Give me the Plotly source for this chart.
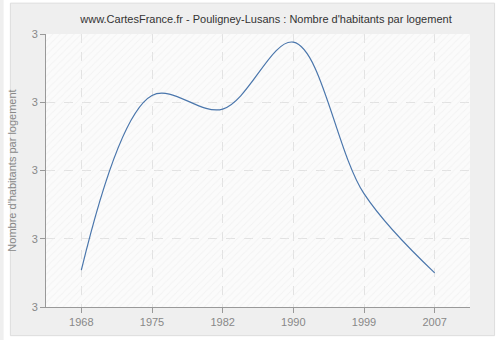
import plotly.graph_objects as go

years = ["1968", "1975", "1982", "1990", "1999", "2007"]
values = [2.927, 3.055, 3.045, 3.094, 2.983, 2.925]
y_tickvals = [2.9, 2.95, 3.0, 3.05, 3.1]
y_ticktext = ["3", "3", "3", "3", "3"]

title = "www.CartesFrance.fr - Pouligney-Lusans : Nombre d'habitants par logement"
ytitle = "Nombre d'habitants par logement"

FONT = "Liberation Sans, Arial, sans-serif"

fig = go.Figure()

# hatched background on the hidden base axes
fig.add_trace(go.Scatter(
    x=[0, 1, 1, 0, 0], y=[0, 0, 1, 1, 0], xaxis="x", yaxis="y",
    mode="lines", line=dict(width=0), fill="toself", fillcolor="rgba(0,0,0,0)",
    fillpattern=dict(shape="/", fgcolor="#ebebeb", bgcolor="rgba(0,0,0,0)", size=5, solidity=0.2),
    hoverinfo="skip", showlegend=False,
))

fig.add_trace(go.Scatter(
    x=years, y=values, mode="lines", xaxis="x2", yaxis="y2",
    line=dict(color="#4a76ac", width=1.2, shape="spline", smoothing=1),
    showlegend=False,
))

axis_common = dict(
    showline=True, linecolor="#999999", linewidth=1,
    ticks="outside", ticklen=5, tickcolor="#999999",
    showgrid=True, gridcolor="#e2e2e2", griddash="dash", gridwidth=1,
    zeroline=False, tickfont=dict(family=FONT, size=11, color="#888888"),
)

fig.update_layout(
    width=500, height=340,
    margin=dict(l=41, r=30, t=34, b=31),
    paper_bgcolor="#efefef",
    plot_bgcolor="#fbfbfb",
    font=dict(family=FONT, size=11, color="#888888"),
    title=dict(text=title, x=0.532, xanchor="center", y=0.945, yanchor="middle",
               font=dict(family=FONT, size=11, color="#333333")),
    xaxis=dict(range=[0, 1], visible=False, fixedrange=True),
    yaxis=dict(range=[0, 1], visible=False, fixedrange=True),
    xaxis2=dict(type="category", range=[-0.5, 5.5], overlaying="x", anchor="y2", **axis_common),
    yaxis2=dict(range=[2.9, 3.1], tickvals=y_tickvals, ticktext=y_ticktext,
                overlaying="y", anchor="x2", side="left",
                title=dict(text=ytitle, font=dict(family=FONT, size=11, color="#888888"), standoff=12),
                **axis_common),
    shapes=[
        # white margin outside the rounded frame (outer ring with a hole)
        dict(type="path", xref="paper", yref="paper", layer="below",
             path=("M -0.1,1.2 L 1.1,1.2 L 1.1,-0.2 L -0.1,-0.2 Z "
                   "M -0.084,1.113 L -0.084,-0.105 L 1.058,-0.105 L 1.058,1.113 Z"),
             fillcolor="#ffffff", line=dict(width=0)),
        dict(type="path", xref="paper", yref="paper", layer="below",
             path="M -0.084,1.113 L 1.058,1.113 L 1.058,-0.105 L -0.084,-0.105 Z",
             fillcolor="rgba(0,0,0,0)", line=dict(color="#dddddd", width=1)),
    ],
)

fig.write_html("out.html")
